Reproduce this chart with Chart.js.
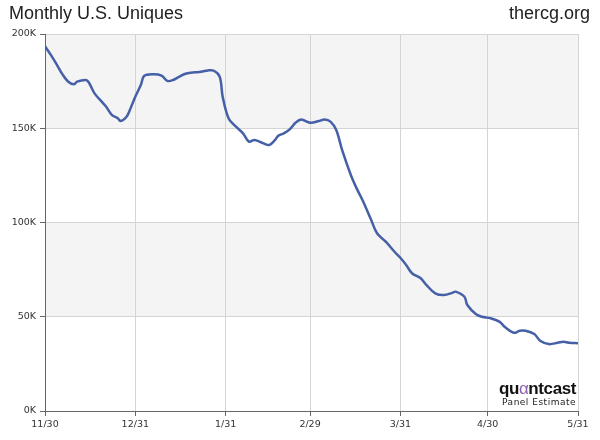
<!DOCTYPE html>
<html><head><meta charset="utf-8">
<script src="https://cdn.jsdelivr.net/npm/chart.js@4/dist/chart.umd.min.js"></script>
<style>
html,body{margin:0;padding:0;background:#fff;}
#wrap{position:relative;width:600px;height:440px;}
#title{position:absolute;left:9px;top:3px;font:18px "Liberation Sans",Arial,sans-serif;color:#222;}
#site{position:absolute;right:10px;top:3px;font:18px "Liberation Sans",Arial,sans-serif;color:#222;}
#logo{position:absolute;right:24px;top:381px;text-align:right;font-family:"Liberation Sans",Arial,sans-serif;color:#111;}
#logo .q{font-size:17px;font-weight:bold;letter-spacing:-0.4px;line-height:16px;}
#logo .q span{color:#8a5fb0;font-weight:normal;}
#logo .p{font:9px "DejaVu Sans",sans-serif;color:#222;letter-spacing:0.5px;line-height:11px;}
canvas{position:absolute;left:0;top:0;}
</style></head>
<body><div id="wrap">
<canvas id="c" width="600" height="440"></canvas>
<div id="title">Monthly U.S. Uniques</div>
<div id="site">thercg.org</div>
<div id="logo"><div class="q">qu<span>α</span>ntcast</div><div class="p">Panel Estimate</div></div>
</div>
<script>
// days since 11/30
const days = [0,2,4,6,8,10,11,14,15,17,20,21,23,25,26,28,29,31,33,34,37,40,42,44,46,48,50,53,56,58,60,61,63,65,68,70,72,75,77,79,80,82,84,86,88,91,94,96,98,100,102,105,107,109,112,114,117,120,122,124,126,129,131,134,137,140,141,144,145,148,150,153,156,158,161,163,165,168,170,173,176,178,180,183];
// monthly uniques, thousands
const uniques = [193.5,188.9,183.9,178.6,174.7,173.3,174.7,175.6,174.4,168.5,163.2,161.4,157.0,155.3,153.8,156.1,159.2,166.7,173.3,177.7,178.6,177.9,175.1,175.6,177.3,178.8,179.5,179.8,180.7,180.5,177.3,166.7,155.3,151.7,147.3,142.9,143.8,142.0,141.1,143.8,145.9,147.3,149.4,152.9,154.7,152.9,153.8,154.7,153.5,149.1,138.5,125.2,118.1,111.9,101.3,94.3,89.8,84.5,81.3,77.5,73.1,70.4,66.8,62.4,61.5,62.8,63.3,60.6,56.2,51.3,50.0,49.2,47.4,44.4,41.5,42.6,42.6,40.8,37.3,35.5,36.2,36.8,36.2,36.0];
const tickDays = [0,31,62,91,122,152,183];
const tickLabels = ['11/30','12/31','1/31','2/29','3/31','4/30','5/31'];
const yTicks = [0,50,100,150,200];

const bands = {
  id:'bands',
  beforeDraw(chart){
    const {ctx, chartArea:a, scales:{y}} = chart;
    ctx.save();
    ctx.fillStyle = '#f4f4f4';
    [[150,200],[50,100]].forEach(([lo,hi])=>{
      const t = y.getPixelForValue(hi), b = y.getPixelForValue(lo);
      ctx.fillRect(a.left, t, a.right-a.left, b-t);
    });
    ctx.restore();
  }
};

new Chart(document.getElementById('c'), {
  type:'line',
  data:{datasets:[{
    data: days.map((d,i)=>({x:d,y:uniques[i]})),
    borderColor:'#4660a8',
    borderWidth:2.5,
    pointRadius:0,
    tension:0.35,
    fill:false
  }]},
  options:{
    responsive:false,
    animation:false,
    layout:{padding:{top:34,right:22,left:0,bottom:0}},
    plugins:{legend:{display:false},tooltip:{enabled:false}},
    scales:{
      x:{
        type:'linear', min:0, max:183,
        afterBuildTicks(s){ s.ticks = tickDays.map(v=>({value:v})); },
        afterFit(s){ s.height = 29; },
        ticks:{
          autoSkip:false, maxRotation:0, padding:3,
          color:'#333', font:{family:'DejaVu Sans', size:9.5},
          callback(v){ const i = tickDays.indexOf(v); return i>=0 ? tickLabels[i] : ''; }
        },
        grid:{color:'#d4d4d4', tickColor:'#666', tickLength:5, lineWidth:1},
        border:{color:'#666', width:1}
      },
      y:{
        type:'linear', min:0, max:200,
        afterBuildTicks(s){ s.ticks = yTicks.map(v=>({value:v})); },
        afterFit(s){ s.width = 45; },
        ticks:{
          padding:4,
          color:'#333', font:{family:'DejaVu Sans', size:9.5},
          callback(v){ return v + 'K'; }
        },
        grid:{color:'#d4d4d4', tickColor:'#666', tickLength:5, lineWidth:1},
        border:{color:'#666', width:1}
      }
    }
  },
  plugins:[bands]
});
</script>
</body></html>
